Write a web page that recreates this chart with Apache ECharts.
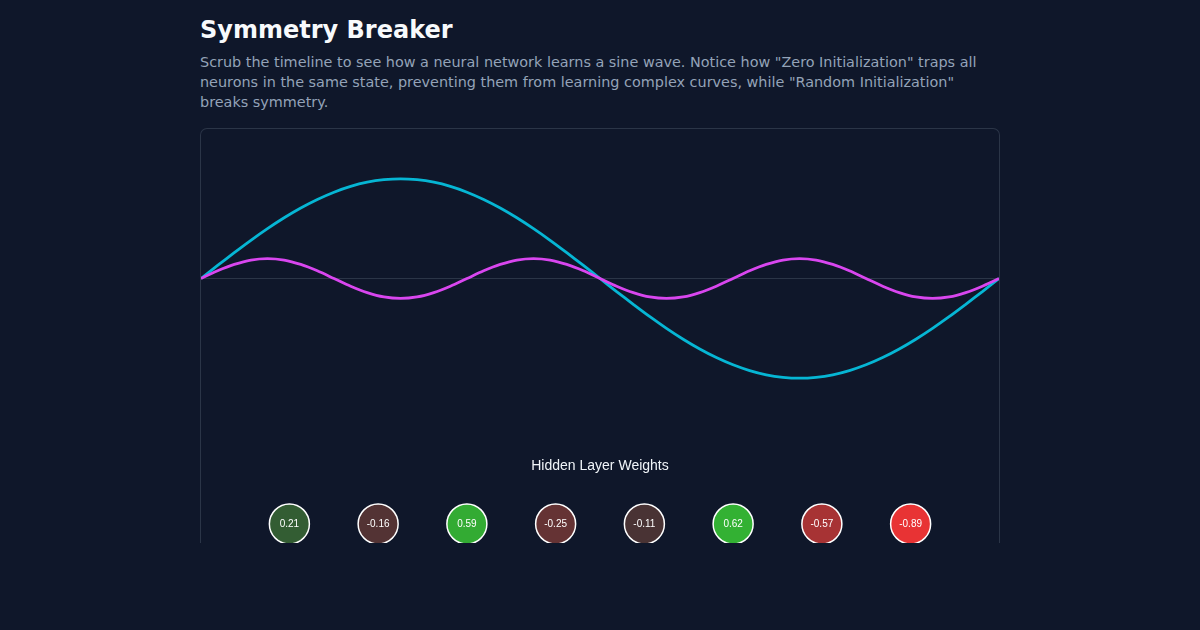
<!DOCTYPE html>
<html>
<head>
<meta charset="utf-8">
<script src="https://cdn.jsdelivr.net/npm/echarts@6/dist/echarts.min.js"></script>
<style>
  html, body { margin: 0; padding: 0; background: #0f172a; }
  body { width: 1200px; height: 630px; position: relative; overflow: hidden; font-family: "DejaVu Sans", sans-serif; }
  #head { position: absolute; left: 200px; top: 0; width: 800px; }
  h1 { margin: 15px 0 0 0; font-size: 24px; line-height: 30px; color: #f8fafc; font-weight: bold; }
  p { margin: 7px 0 0 0; font-size: 14.4px; line-height: 20px; color: #94a3b8; }
  #panel { position: absolute; left: 200px; top: 128px; width: 800px; height: 415px; box-sizing: border-box;
           border: 1px solid #2b3547; border-bottom: none; border-radius: 7px 7px 0 0; overflow: hidden; }
  #chart { width: 798px; height: 414px; }
</style>
</head>
<body>
<div id="head">
  <h1>Symmetry Breaker</h1>
  <p>Scrub the timeline to see how a neural network learns a sine wave. Notice how "Zero Initialization" traps all neurons in the same state, preventing them from learning complex curves, while "Random Initialization" breaks symmetry.</p>
</div>
<div id="panel"><div id="chart"></div></div>
<script>
// sample positions along the input range
var xs = [0, 0.0208, 0.0417, 0.0625, 0.0833, 0.1042, 0.125, 0.1458, 0.1667, 0.1875, 0.2083, 0.2292, 0.25,
  0.2708, 0.2917, 0.3125, 0.3333, 0.3542, 0.375, 0.3958, 0.4167, 0.4375, 0.4583, 0.4792, 0.5,
  0.5208, 0.5417, 0.5625, 0.5833, 0.6042, 0.625, 0.6458, 0.6667, 0.6875, 0.7083, 0.7292, 0.75,
  0.7708, 0.7917, 0.8125, 0.8333, 0.8542, 0.875, 0.8958, 0.9167, 0.9375, 0.9583, 0.9792, 1]

// target sine wave (cyan)
var target = [0, 0.131, 0.259, 0.383, 0.5, 0.609, 0.707, 0.793, 0.866, 0.924, 0.966, 0.991, 1,
  0.991, 0.966, 0.924, 0.866, 0.793, 0.707, 0.609, 0.5, 0.383, 0.259, 0.131, 0,
  -0.131, -0.259, -0.383, -0.5, -0.609, -0.707, -0.793, -0.866, -0.924, -0.966, -0.991, -1,
  -0.991, -0.966, -0.924, -0.866, -0.793, -0.707, -0.609, -0.5, -0.383, -0.259, -0.131, 0]

// network prediction (magenta)
var prediction = [0, 0.077, 0.141, 0.185, 0.2, 0.185, 0.141, 0.077, 0, -0.077, -0.141, -0.185, -0.2, -0.185, -0.141, -0.077,
  0, 0.077, 0.141, 0.185, 0.2, 0.185, 0.141, 0.077, 0, -0.077, -0.141, -0.185, -0.2, -0.185, -0.141, -0.077,
  0, 0.077, 0.141, 0.185, 0.2, 0.185, 0.141, 0.077, 0, -0.077, -0.141, -0.185, -0.2, -0.185, -0.141, -0.077, 0]

// hidden layer neurons and their weights
var neurons = ['h1', 'h2', 'h3', 'h4', 'h5', 'h6', 'h7', 'h8']
var weights = [0.21, -0.16, 0.59, -0.25, -0.11, 0.62, -0.57, -0.89]

function pairs(ys) {
  return ys.map(function(y, i) { return [xs[i], y] })
}

// green for positive, red for negative, stronger with magnitude
function weightColor(w) {
  var k = Math.round(50 + 205 * Math.abs(w))
  return w >= 0 ? 'rgb(51,' + k + ',51)' : 'rgb(' + k + ',51,52)'
}

var chart = echarts.init(document.getElementById('chart'))
chart.setOption({
  backgroundColor: 'transparent',
  animation: false,
  title: {
    text: 'Hidden Layer Weights',
    left: 'center',
    top: 325,
    textStyle: { color: '#f1f5f9', fontSize: 14, fontWeight: 'normal', fontFamily: 'Liberation Sans, Arial, sans-serif' }
  },
  grid: [
    { left: 0, right: 0, top: -1, height: 300 },
    { left: 44, right: 44, top: 376, height: 40 }
  ],
  xAxis: [
    { type: 'value', gridIndex: 0, min: 0, max: 1,
      axisLine: { show: true, onZero: true, lineStyle: { color: '#2b3547', width: 1 } },
      axisTick: { show: false }, axisLabel: { show: false }, splitLine: { show: false } },
    { type: 'category', gridIndex: 1, data: neurons, show: false }
  ],
  yAxis: [
    { type: 'value', gridIndex: 0, min: -1.5, max: 1.5, show: false, splitLine: { show: false } },
    { type: 'value', gridIndex: 1, min: 0, max: 1, show: false, splitLine: { show: false } }
  ],
  series: [
    { name: 'Target', type: 'line', xAxisIndex: 0, yAxisIndex: 0, data: pairs(target),
      smooth: 0.3, showSymbol: false, lineStyle: { color: '#06b6d4', width: 2.8 } },
    { name: 'Prediction', type: 'line', xAxisIndex: 0, yAxisIndex: 0, data: pairs(prediction),
      smooth: 0.3, showSymbol: false, lineStyle: { color: '#d946ef', width: 2.8 } },
    { name: 'Weights', type: 'scatter', xAxisIndex: 1, yAxisIndex: 1, symbolSize: 40,
      data: weights.map(function(w, i) {
        return { value: [neurons[i], 0.5], itemStyle: { color: weightColor(w) } }
      }),
      itemStyle: { borderColor: '#ffffff', borderWidth: 1.5, opacity: 1 },
      label: { show: true, position: 'inside', color: '#ffffff', fontSize: 10,
        fontFamily: 'Liberation Sans, Arial, sans-serif',
        formatter: function(p) { return weights[p.dataIndex].toFixed(2) } } }
  ]
})
</script>
</body>
</html>
